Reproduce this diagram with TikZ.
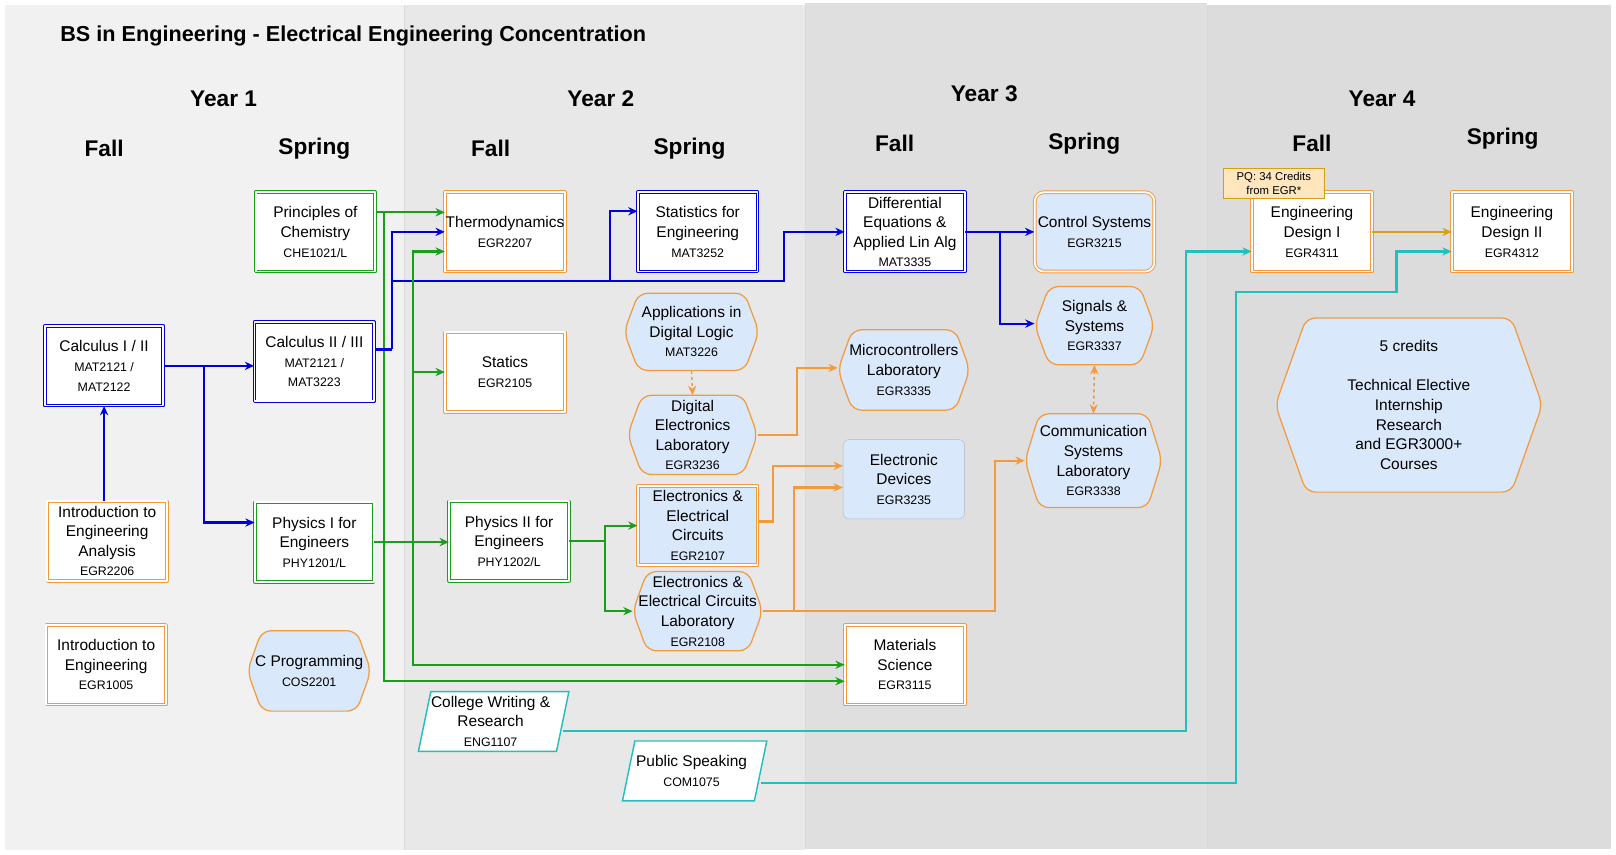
\documentclass[tikz,border=0pt]{standalone}
\usepackage{fontspec}
\setmainfont{Liberation Sans}
\usetikzlibrary{arrows.meta,calc}
\definecolor{bl}{HTML}{0000DD}
\definecolor{gr}{HTML}{1A9F1A}
\definecolor{orb}{HTML}{F39A3C}
\definecolor{cy}{HTML}{22BFBF}
\definecolor{gd}{HTML}{D4A017}
\definecolor{lb}{HTML}{DAE8FC}
\newcommand\cd[1]{{\fontsize{12}{15}\selectfont #1}}
\tikzset{
 txt/.style={align=center,inner sep=0pt,font=\fontsize{15}{19}\selectfont},
 box/.style={txt,minimum width=116pt,minimum height=77pt,fill=white},
 dbl/.style={draw=#1,double=white,double distance=1.8pt,line width=0.9pt,line join=round},
 arr/.style={line width=2pt,-{Stealth[length=9pt,width=8pt]}},
 ab/.style={arr,draw=bl},
 ag/.style={arr,draw=gr},
 ao/.style={arr,draw=orb},
 ac/.style={arr,draw=cy},
 hd/.style={font=\bfseries\fontsize{22}{26}\selectfont},
}
\newcommand\hexn[7][14]{%
 \filldraw[fill=lb,draw=orb,line width=1.2pt,rounded corners=9pt] ({#3-#5/2+#1},{#4-#6/2}) -- ({#3+#5/2-#1},{#4-#6/2}) -- ({#3+#5/2},{#4}) -- ({#3+#5/2-#1},{#4+#6/2}) -- ({#3-#5/2+#1},{#4+#6/2}) -- ({#3-#5/2},{#4}) -- cycle;
 \node[txt,minimum width=#5pt,minimum height=#6pt] (#2) at (#3,#4) {#7};}
\newcommand\paran[6]{%
 \filldraw[fill=white,draw=cy,line width=1.4pt] ({#2-#4/2},{#3+#5/2}) -- ({#2-#4/2+12},{#3-#5/2}) -- ({#2+#4/2+6},{#3-#5/2}) -- ({#2+#4/2-6},{#3+#5/2}) -- cycle;
 \node[txt,minimum width=#4pt,minimum height=#5pt] (#1) at (#2,#3) {#6};}
\begin{document}
\begin{tikzpicture}[x=1pt,y=-1pt]
\useasboundingbox[fill=white] (0,0) rectangle (1568,829);
\fill[fill={rgb,255:red,241;green,241;blue,241}] (5,5) rectangle (392,825);
\fill[fill={rgb,255:red,232;green,232;blue,232}] (392,5) rectangle (781,825);
\fill[fill={rgb,255:red,223;green,223;blue,223}] (781,3) rectangle (1171,824);
\fill[fill={rgb,255:red,220;green,220;blue,220}] (1171,5) rectangle (1563,824);
\draw[white!85!black,line width=0.6pt] (392,5)--(392,825) (781,3)--(781,824) (1171,5)--(1171,824);
\node[anchor=west,font=\bfseries\fontsize{21}{25}\selectfont] (title) at (55,35) {BS in Engineering - Electrical Engineering Concentration};
\node[hd] (y1) at (217,96) {Year 1};
\node[hd] (y2) at (583,96) {Year 2};
\node[hd] (y3) at (955,91) {Year 3};
\node[hd] (y4) at (1341,96) {Year 4};
\node[hd] (f1) at (101,144) {Fall};
\node[hd] (s1) at (305,144) {Spring};
\node[hd] (f2) at (476,144) {Fall};
\node[hd] (s2) at (669,144) {Spring};
\node[hd] (f3) at (868,139) {Fall};
\node[hd] (s3) at (1052,139) {Spring};
\node[hd] (f4) at (1273,139) {Fall};
\node[hd] (s4) at (1458,135) {Spring};
% year 1
\node[box,dbl=gr] (chem) at (306,225) {Principles of\\Chemistry\\\cd{CHE1021/L}};
\node[box,dbl=bl] (calc2) at (305,351) {Calculus II / III\\\cd{MAT2121 /}\\\cd{MAT3223}};
\node[box,dbl=bl,minimum width=115pt] (calc1) at (101,355) {Calculus I / II\\\cd{MAT2121 /}\\\cd{MAT2122}};
\node[box,dbl=orb] (ianal) at (104,525) {Introduction to\\Engineering\\Analysis\\\cd{EGR2206}};
\node[box,dbl=orb] (intro) at (103,645) {Introduction to\\Engineering\\\cd{EGR1005}};
\node[box,dbl=gr,minimum width=115pt] (phys1) at (305,526) {Physics I for\\Engineers\\\cd{PHY1201/L}};
\hexn{cprog}{300}{651}{120}{78}{C Programming\\\cd{COS2201}}
% year 2
\node[box,dbl=orb] (thermo) at (490,225) {Thermodynamics\\\cd{EGR2207}};
\node[box,dbl=orb] (statics) at (490,361) {Statics\\\cd{EGR2105}};
\node[box,dbl=gr] (phys2) at (494,525) {Physics II for\\Engineers\\\cd{PHY1202/L}};
\node[box,dbl=bl] (stats) at (677,225) {Statistics for\\Engineering\\\cd{MAT3252}};
\hexn{applog}{671}{322}{131}{75}{Applications in\\Digital Logic\\\cd{MAT3226}}
\hexn{diglab}{672}{422}{126}{77}{Digital\\Electronics\\Laboratory\\\cd{EGR3236}}
\node[box,dbl=orb,fill=lb] (eec) at (677,510) {Electronics \&\\Electrical\\Circuits\\\cd{EGR2107}};
\hexn{eecl}{677}{593}{126}{77}{Electronics \&\\Electrical Circuits\\Laboratory\\\cd{EGR2108}}
\paran{eng}{476}{700}{140}{58}{College Writing \&\\Research\\\cd{ENG1107}}
\paran{com}{671}{748}{134}{58}{Public Speaking\\\cd{COM1075}}
% year 3
\node[box,dbl=bl] (diffeq) at (878,225) {Differential\\Equations \&\\Applied Lin Alg\\\cd{MAT3335}};
\hexn{micro}{877}{359}{128}{78}{Microcontrollers\\Laboratory\\\cd{EGR3335}}
\node[box,fill=lb,draw=lb!80!black,rounded corners=6pt,minimum width=118pt] (edev) at (877,465) {Electronic\\Devices\\\cd{EGR3235}};
\node[box,dbl=orb] (matsci) at (878,645) {Materials\\Science\\\cd{EGR3115}};
\node[box,dbl=orb,fill=lb,rounded corners=9pt] (ctrl) at (1062,225) {Control Systems\\\cd{EGR3215}};
\hexn{sig}{1062}{316}{116}{76}{Signals \&\\Systems\\\cd{EGR3337}}
\hexn{comm}{1061}{447}{133}{91}{Communication\\Systems\\Laboratory\\\cd{EGR3338}}
% year 4
\node[box,dbl=orb] (ed1) at (1273,225) {Engineering\\Design I\\\cd{EGR4311}};
\node[box,dbl=orb] (ed2) at (1467,225) {Engineering\\Design II\\\cd{EGR4312}};
\node[txt,draw=gd,fill={rgb,255:red,255;green,230;blue,190},minimum width=98pt,minimum height=29pt,font=\fontsize{11}{14}\selectfont] (pq) at (1236,178) {PQ: 34 Credits\\from EGR*};
\hexn[30]{elect}{1367}{393}{259}{169}{5 credits\\[19pt]Technical Elective\\Internship\\Research\\and EGR3000+\\Courses}
% connectors
\draw[ab] (calc1.east) -- (calc2.west|-calc1.east);
\draw[ab] (198,355) |- ($(phys1.west)+(0,-19)$);
\draw[ab] (calc1.south|-ianal.north) -- (calc1.south);
\draw[ag] ($(chem.east)+(0,-19)$) -- ($(thermo.west)+(0,-19)$);
\draw[ag] (373,206) |- ($(matsci.west)+(0,16)$);
\draw[bl,line width=3.5pt] ($(calc2.east)+(0,-12)$) -- (380,339);
\draw[ab] (380,339) |- (thermo.west);
\draw[ab] (380,339) |- (592,273) |- ($(stats.west)+(0,-20)$);
\draw[ab] (592,273) -- (761,273) |- (diffeq.west);
\draw[ag] (phys1.east) -- (phys2.west|-phys1.east);
\draw[ag] (401,525) |- ($(thermo.west)+(0,19)$);
\draw[ag] (401,525) |- (statics.west);
\draw[ag] (401,525) |- (matsci.west);
\draw[ag] (phys2.east) -- (587,525) |- (eec.west);
\draw[ag] (587,525) |- (eecl.west);
\draw[ao,dashed,line width=1.5pt] (applog.south) -- (diglab.north);
\draw[ao] (diglab.east) -- (773,422) |- ($(micro.west)+(0,-2)$);
\draw[ao] ($(eec.east)+(0,-4)$) -- (750,506) |- ($(edev.west)+(0,-13)$);
\draw[ao] (eecl.east) -- (770,593) |- ($(edev.west)+(0,8)$);
\draw[ao] (770,593) -- (965,593) |- (comm.west);
\draw[ao,dashed,line width=1.5pt,{Stealth[length=9pt,width=8pt]}-{Stealth[length=9pt,width=8pt]}] (sig.south) -- (comm.north);
\draw[ab] (diffeq.east) -- (ctrl.west);
\draw[ab] (970,225) |- ($(sig.west)+(0,-2)$);
\draw[arr,draw=gd] (ed1.east) -- (ed2.west);
\draw[ac] ($(eng.east)+(0,9)$) -- (1151,709) |- ($(ed1.west)+(0,19)$);
\draw[ac] ($(com.east)+(0,12)$) -- (1199,760) |- (1355,283) |- ($(ed2.west)+(0,19)$);
\end{tikzpicture}
\end{document}
